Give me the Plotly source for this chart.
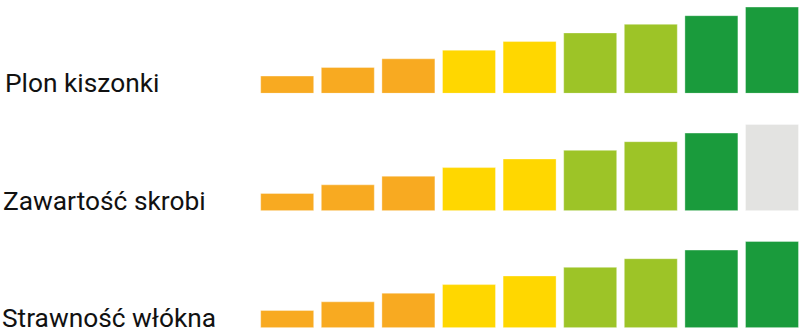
import plotly.graph_objects as go

# ---- data ----
rows = ["Plon kiszonki", "Zawartość skrobi", "Strawność włókna"]
levels = [1, 2, 3, 4, 5, 6, 7, 8, 9]
heights = [2, 3, 4, 5, 6, 7, 8, 9, 10]
ratings = [9, 8, 9]          # number of coloured (active) bars per row
level_colors = ["#F8AA21", "#F8AA21", "#F8AA21",
                "#FFD700", "#FFD700",
                "#9DC427", "#9DC427",
                "#1A9B3C", "#1A9B3C"]
inactive_color = "#E3E3E1"

# ---- layout geometry ----
W, H = 800, 336
px_per_unit = 60.6
first_center = 287.2
xmin = 1 - first_center / px_per_unit
xmax = xmin + W / px_per_unit
yrange_top = 10.8
unit_px = 8.625
dom_h = yrange_top * unit_px / H
row_bottoms_px = [93.3, 210.7, 327.7]
label_xshift = [3, 1, 0]

fig = go.Figure()
for i, (name, rating) in enumerate(zip(rows, ratings)):
    ya = "y" if i == 0 else f"y{i+1}"
    cols = [c if lv <= rating else inactive_color for lv, c in zip(levels, level_colors)]
    fig.add_trace(go.Bar(
        x=levels, y=heights, yaxis=ya, xaxis="x",
        width=53 / px_per_unit,
        marker=dict(color=cols, line=dict(color="rgba(255,255,255,0.35)", width=1)),
        showlegend=False, hoverinfo="skip",
    ))
    bottom = (H - row_bottoms_px[i]) / H
    key = "yaxis" if i == 0 else f"yaxis{i+1}"
    fig.layout[key] = dict(domain=[bottom, min(1, bottom + dom_h)], range=[0, yrange_top],
                           visible=False, fixedrange=True)
    fig.add_annotation(
        text=name, xref="paper", yref="paper",
        x=0.0, y=bottom, xanchor="left", yanchor="bottom",
        xshift=label_xshift[i], yshift=-7,
        showarrow=False,
        font=dict(family="Roboto", size=26.3, color="#111111"),
    )

fig.update_layout(
    width=W, height=H,
    margin=dict(l=0, r=0, t=0, b=0),
    paper_bgcolor="white", plot_bgcolor="white",
    barmode="overlay",
    xaxis=dict(range=[xmin, xmax], visible=False, fixedrange=True),
)

fig.write_html("out.html")
